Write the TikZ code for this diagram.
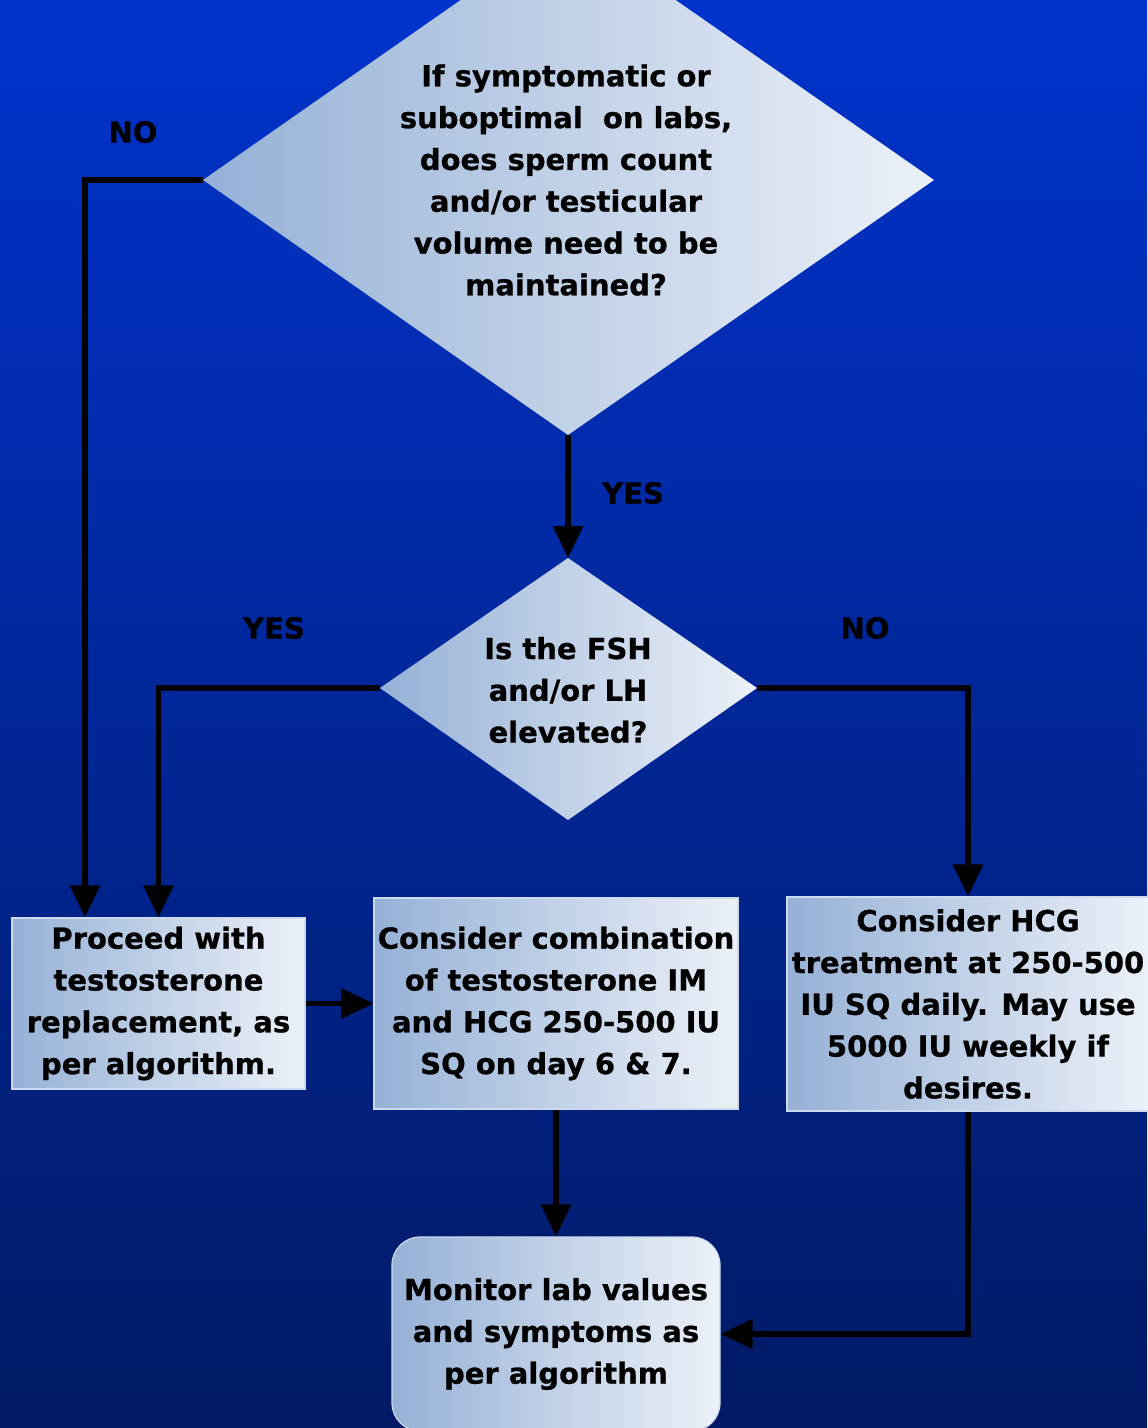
\documentclass[tikz,border=0pt]{standalone}
\usepackage{fontspec}
\setmainfont{DejaVu Sans}[BoldFeatures={FakeBold=0.8}]
\usetikzlibrary{arrows.meta,calc}
\definecolor{bgtop}{RGB}{0,51,204}
\definecolor{bgbot}{RGB}{0,26,100}
\definecolor{fillL}{RGB}{150,177,214}
\definecolor{fillR}{RGB}{236,241,249}
\definecolor{edge}{RGB}{205,218,238}
\begin{document}
\begin{tikzpicture}[x=0.5pt,y=-0.5pt,
  txt/.style={font=\bfseries\fontsize{14.5}{20.9}\selectfont, align=center, text=black, inner sep=0pt},
  box/.style={txt, rectangle, draw=edge, line width=0.6pt, left color=fillL, right color=fillR},
  dshade/.style={left color=fillL, right color=fillR},
  wire/.style={line width=2.9pt, line join=miter},
  arr/.style={wire, -{Triangle[width=14.5pt,length=16pt]}}]

% canvas and background gradient
\useasboundingbox (0,0) rectangle (1147,1428);
\shade[top color=bgtop, bottom color=bgbot] (0,0) rectangle (1147,1428);

% first decision diamond
\coordinate (d1n) at (568,-75);
\coordinate (d1e) at (934,180);
\coordinate (d1s) at (568,435);
\coordinate (d1w) at (203,180);
\shade[dshade] (d1n) -- (d1e) -- (d1s) -- (d1w) -- cycle;
\node[txt] (q1) at (566,180) {If symptomatic or\\suboptimal\ \ on labs,\\does sperm count\\and/or testicular\\volume need to be\\maintained?};

% second decision diamond
\coordinate (d2n) at (568,558);
\coordinate (d2e) at (757,688);
\coordinate (d2s) at (568,820);
\coordinate (d2w) at (380,688);
\shade[dshade] (d2n) -- (d2e) -- (d2s) -- (d2w) -- cycle;
\node[txt] (q2) at (568,690) {Is the FSH\\and/or LH\\elevated?};

% action boxes
\node[box, minimum width=146.5pt, minimum height=85.5pt] (b1) at (158.5,1003.5)
  {Proceed with\\testosterone\\replacement, as\\per algorithm.};
\node[box, minimum width=182pt, minimum height=105.5pt] (b2) at (556,1003.5)
  {Consider combination\\of testosterone IM\\and HCG 250-500 IU\\SQ on day 6 \& 7.};
\node[box, minimum width=181pt, minimum height=107pt] (b3) at (968,1004)
  {Consider HCG\\treatment at 250-500\\IU SQ daily. May use\\5000 IU weekly if\\desires.};
\node[box, rounded corners=14pt, minimum width=164pt, minimum height=97pt] (b4) at (556,1334)
  {Monitor lab values\\and symptoms as\\per algorithm};

% branch labels
\node[txt] (l1) at (133,132) {NO};
\node[txt] (l2) at (633,493) {YES};
\node[txt] (l3) at (274,628) {YES};
\node[txt] (l4) at (865,628) {NO};

% connectors
\draw[arr] (d1w) -| ($(b1.north)+(-73.5,0)$);
\draw[arr] (d1s) -- (d2n);
\draw[arr] (d2w) -| (b1.north);
\draw[arr] (d2e) -| (b3.north);
\draw[arr] (b1.east) -- (b2.west);
\draw[arr] (b2.south) -- (b4.north);
\draw[arr] (b3.south) |- (b4.east);
\end{tikzpicture}
\end{document}
